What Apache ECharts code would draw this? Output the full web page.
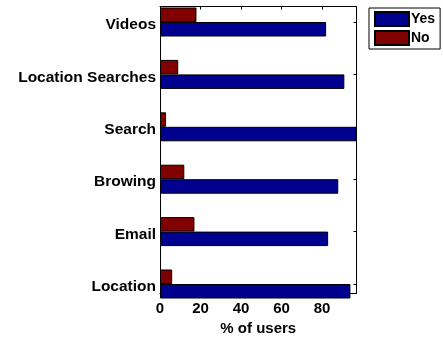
<!DOCTYPE html>
<html>
<head>
<meta charset="utf-8">
<script src="https://cdn.jsdelivr.net/npm/echarts@6/dist/echarts.min.js"></script>
<style>
  html, body { margin: 0; padding: 0; background: #fff; }
  #chart { width: 443px; height: 341px; }
</style>
</head>
<body>
<div id="chart"></div>
<script>
// Categories listed bottom to top
const categories = ['Location', 'Email', 'Browing', 'Search', 'Location Searches', 'Videos'];
const yesValues = [94, 83, 88, 97, 91, 82];
const noValues = [6, 17, 12, 3, 9, 18];
const xTicks = [0, 20, 40, 60, 80];
const seriesNames = ['Yes', 'No'];

const FONT = 'Liberation Sans, Arial, Helvetica, sans-serif';
const X_MAX = 97;

const chart = echarts.init(document.getElementById('chart'), null, { renderer: 'canvas' });

const frameAxisLine = { show: true, onZero: false, lineStyle: { color: '#000', width: 1 } };

const option = {
  animation: false,
  backgroundColor: '#ffffff',
  textStyle: { fontFamily: FONT },
  legend: {
    data: seriesNames,
    orient: 'vertical',
    left: 369,
    top: 8,
    padding: [3, 5, 3, 5],
    itemGap: 3,
    itemWidth: 34,
    itemHeight: 14,
    borderColor: '#000',
    borderWidth: 1,
    icon: 'rect',
    textStyle: { fontFamily: FONT, fontWeight: 'bold', fontSize: 14, color: '#000', padding: [0, 0, 0, -3] }
  },
  grid: [
    // bar grid: spans from the top category centre to the bottom one
    { left: 160, right: 86.5, top: 22, bottom: 57, containLabel: false },
    // frame grid: the boxed axes
    { left: 160, right: 86.5, top: 6.5, bottom: 42, containLabel: false },
    // category label grid: same spacing, text sitting slightly low like the original plot
    { left: 160, right: 86.5, top: 25, bottom: 54, containLabel: false }
  ],
  xAxis: [
    { gridIndex: 0, type: 'value', min: 0, max: X_MAX, show: false },
    {
      gridIndex: 1, type: 'value', min: 0, max: X_MAX, position: 'bottom',
      axisLine: frameAxisLine,
      axisTick: { show: true, inside: true, length: 3, lineStyle: { color: '#000' }, customValues: xTicks },
      axisLabel: {
        show: true, margin: 8, color: '#000', fontFamily: FONT, fontWeight: 'bold', fontSize: 15,
        customValues: xTicks
      },
      splitLine: { show: false },
      name: '% of users',
      nameLocation: 'middle',
      nameGap: 24,
      nameTextStyle: { color: '#000', fontFamily: FONT, fontWeight: 'bold', fontSize: 15 }
    },
    {
      gridIndex: 1, type: 'value', min: 0, max: X_MAX, position: 'top',
      axisLine: frameAxisLine,
      axisTick: { show: true, inside: true, length: 3, lineStyle: { color: '#000' }, customValues: xTicks },
      axisLabel: { show: false },
      splitLine: { show: false }
    },
    { gridIndex: 2, type: 'value', min: 0, max: X_MAX, show: false }
  ],
  yAxis: [
    {
      gridIndex: 0, type: 'category', data: categories, position: 'left', boundaryGap: false,
      axisLine: { show: false }, axisTick: { show: false }, axisLabel: { show: false },
      splitLine: { show: false }
    },
    {
      gridIndex: 0, type: 'category', data: categories, position: 'right', boundaryGap: false,
      axisLine: { show: false },
      axisTick: { show: true, inside: true, length: 3, interval: 0, lineStyle: { color: '#000' } },
      axisLabel: { show: false },
      splitLine: { show: false }
    },
    {
      gridIndex: 1, type: 'value', min: 0, max: 1, position: 'left',
      axisLine: frameAxisLine,
      axisTick: { show: false }, axisLabel: { show: false }, splitLine: { show: false }
    },
    {
      gridIndex: 1, type: 'value', min: 0, max: 1, position: 'right',
      axisLine: frameAxisLine,
      axisTick: { show: false }, axisLabel: { show: false }, splitLine: { show: false }
    },
    {
      gridIndex: 2, type: 'category', data: categories, position: 'left', boundaryGap: false,
      axisLine: { show: false },
      axisTick: { show: false },
      axisLabel: {
        show: true, margin: 4, color: '#000', fontFamily: FONT, fontWeight: 'bold', fontSize: 15.5,
        interval: 0
      },
      splitLine: { show: false }
    }
  ],
  series: [
    // "No" listed first so it sits above "Yes" within each group
    {
      name: seriesNames[1], type: 'bar', xAxisIndex: 0, yAxisIndex: 0,
      data: noValues, barWidth: 14.5, barGap: '0%', clip: false,
      itemStyle: { color: '#800000', borderColor: '#000', borderWidth: 1 }
    },
    {
      name: seriesNames[0], type: 'bar', xAxisIndex: 0, yAxisIndex: 0,
      data: yesValues, barWidth: 14.5, barGap: '0%', clip: false,
      itemStyle: { color: '#00008F', borderColor: '#000', borderWidth: 1 }
    }
  ]
};

chart.setOption(option);
</script>
</body>
</html>
